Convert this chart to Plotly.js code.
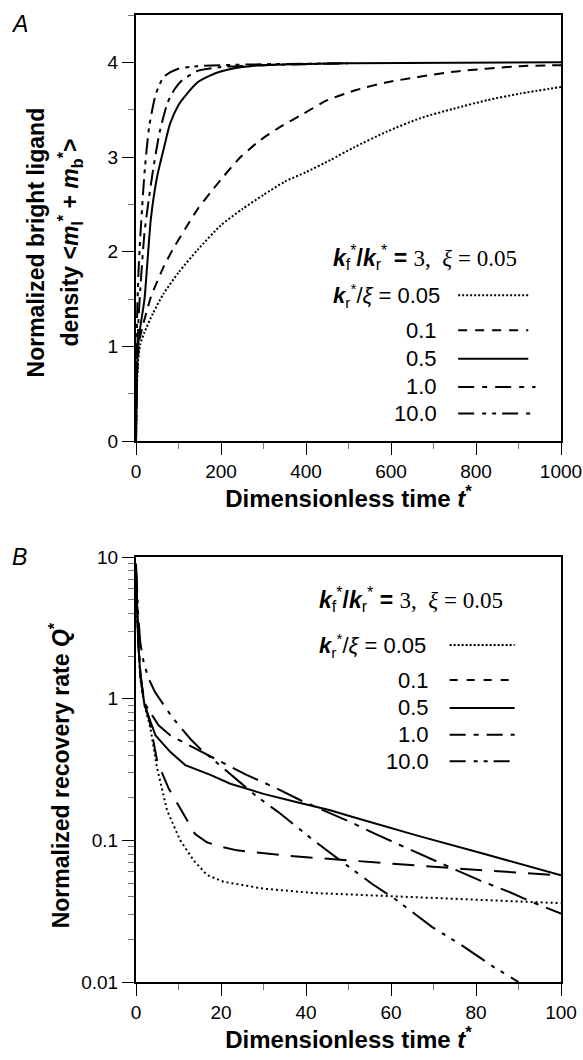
<!DOCTYPE html>
<html>
<head>
<meta charset="utf-8">
<script src="https://cdn.plot.ly/plotly-3.0.1.min.js"></script>
<style>html,body{margin:0;padding:0;background:#fff;}#plot{width:583px;height:1060px;}</style>
</head>
<body>
<div id="plot"></div>
<script>
// ---- Series labels (k_r*/xi) ----
const seriesLabels = ['0.05', '0.1', '0.5', '1.0', '10.0'];

// ---- Panel A: normalized bright ligand density vs t* ----
const tA_005 = [0, 2, 5, 10, 20, 40, 64, 100, 145, 200, 250, 300, 350, 400, 458, 512, 591, 669, 747, 826, 904, 1000];
const yA_005 = [0, 0.55, 0.85, 1.02, 1.15, 1.35, 1.55, 1.78, 2.02, 2.28, 2.45, 2.6, 2.74, 2.84, 2.97, 3.1, 3.27, 3.41, 3.51, 3.6, 3.67, 3.74];
const tA_01 = [0, 2, 5, 8, 15, 35, 66, 90, 117, 145, 176, 207, 246, 293, 340, 395, 450, 520, 591, 747, 904, 1000];
const yA_01 = [0, 0.6, 0.9, 1.06, 1.2, 1.52, 1.85, 2.05, 2.25, 2.45, 2.63, 2.8, 3.0, 3.18, 3.32, 3.46, 3.6, 3.71, 3.79, 3.9, 3.96, 3.97];
const tA_05 = [0, 3, 6, 10, 20, 27, 35, 50, 67, 80, 100, 113, 145, 190, 250, 300, 500, 1000];
const yA_05 = [0, 0.8, 1.05, 1.2, 1.5, 1.9, 2.35, 2.8, 3.12, 3.35, 3.55, 3.63, 3.79, 3.89, 3.95, 3.97, 3.99, 4.0];
const tA_10 = [0, 2, 5, 10, 20, 30, 39, 55, 74, 90, 106, 145, 200, 300, 500];
const yA_10 = [0, 0.8, 1.2, 1.6, 2.2, 2.55, 2.83, 3.25, 3.57, 3.71, 3.8, 3.91, 3.95, 3.97, 3.99];
const tA_100 = [0, 1, 3, 6, 10, 20, 31, 47, 66, 98, 145, 300, 500];
const yA_100 = [0, 0.9, 1.4, 1.8, 2.15, 2.83, 3.32, 3.67, 3.85, 3.93, 3.96, 3.98, 3.99];

// ---- Panel B: normalized recovery rate Q* vs t* ----
const tB_005 = [0, 0.5, 1, 2, 3.4, 4.9, 7.3, 10.4, 13.6, 16.7, 20.6, 30, 41.8, 50.4, 74, 100];
const qB_005 = [8, 2.6, 1.4, 0.9, 0.62, 0.33, 0.163, 0.1, 0.072, 0.057, 0.051, 0.0456, 0.0425, 0.0414, 0.0388, 0.036];
const tB_01 = [0, 0.5, 1, 2, 3.4, 5, 7.7, 11.2, 13.9, 16.7, 19.4, 23.8, 30.8, 35.5, 42.6, 50.4, 66, 81.8, 100];
const qB_01 = [8, 2.6, 1.45, 0.95, 0.65, 0.36, 0.232, 0.155, 0.111, 0.097, 0.091, 0.085, 0.0806, 0.078, 0.075, 0.072, 0.0666, 0.0614, 0.0566];
const tB_05 = [0, 0.5, 1, 2, 4.6, 8.1, 11.6, 17.5, 22.2, 30, 37.9, 45.7, 50.4, 66.2, 81.8, 100];
const qB_05 = [8, 2.6, 1.5, 0.9, 0.55, 0.42, 0.34, 0.29, 0.251, 0.213, 0.186, 0.163, 0.148, 0.108, 0.0805, 0.0566];
const tB_10 = [0, 0.5, 1, 1.8, 5.3, 8.1, 14, 20, 26, 32.4, 38.7, 44.1, 50.4, 56.3, 63, 68.8, 75.5, 81, 88, 93.2, 100];
const qB_10 = [8, 2.8, 1.6, 0.95, 0.65, 0.55, 0.444, 0.36, 0.29, 0.238, 0.192, 0.163, 0.135, 0.111, 0.09, 0.0755, 0.0614, 0.052, 0.043, 0.0367, 0.0304];
const tB_100 = [0, 0.5, 1, 1.8, 3, 4.5, 8.5, 10.4, 12.8, 15.1, 20.2, 22.2, 28, 34, 39.4, 41.8, 48.1, 55.5, 61.4, 69.7, 76, 84.1, 90];
const qB_100 = [9, 4, 2.5, 1.81, 1.38, 1.11, 0.74, 0.63, 0.52, 0.444, 0.329, 0.295, 0.209, 0.154, 0.114, 0.1, 0.072, 0.0494, 0.0377, 0.0244, 0.0187, 0.0128, 0.01];

// ---- Tick labels ----
const xTicksA = [0, 200, 400, 600, 800, 1000];
const yTicksA = [0, 1, 2, 3, 4];
const xTicksB = [0, 20, 40, 60, 80, 100];
const yTicksB = [0.01, 0.1, 1, 10];
const yTickTextB = ['0.01', '0.1', '1', '10'];

// ---- styles (not data) ----
const dashA = ['2px,2px', '10px,7px', 'solid', '16px,6px,4px,6px', '16px,6px,4px,5px,4px,6px'];
const dashB = ['2px,3px', '22px,12px', 'solid', '28px,8px,5px,8px', '28px,8px,4px,7px,4px,8px'];
const dashLegA = ['2px,2px', '9px,8px', 'solid', '16px,8px,5px,8px', '16px,8px,4px,6px,4px,6px'];
const dashLegB = ['2px,2px', '8px,9px', 'solid', '16px,8px,5px,8px', '16px,8px,4px,6px,4px,6px'];
const FONT = 'Arial, "Liberation Sans", sans-serif';

const AX = [[tA_005, yA_005], [tA_01, yA_01], [tA_05, yA_05], [tA_10, yA_10], [tA_100, yA_100]];
const BX = [[tB_005, qB_005], [tB_01, qB_01], [tB_05, qB_05], [tB_10, qB_10], [tB_100, qB_100]];

const traces = [];
AX.forEach((s, i) => traces.push({x: s[0], y: s[1], mode: 'lines', xaxis: 'x', yaxis: 'y',
  line: {color: '#000', width: 2, dash: dashA[i], shape: 'spline', smoothing: 0.6}, showlegend: false, name: seriesLabels[i]}));
BX.forEach((s, i) => traces.push({x: s[0], y: s[1], mode: 'lines', xaxis: 'x2', yaxis: 'y2',
  line: {color: '#000', width: 2, dash: dashB[i]}, showlegend: false, name: seriesLabels[i]}));

const axBase = {showgrid: false, zeroline: false, showline: true, mirror: true, linewidth: 2, linecolor: '#000',
  ticks: 'outside', ticklen: 12, tickwidth: 1, tickcolor: '#000', tickfont: {family: FONT, size: 19, color: '#000'}};
const titleFont = {family: FONT, size: 24, color: '#000'};
const yTitleFont = {family: FONT, size: 23, color: '#000'};

const hdr = "<b><i>k</i></b><sub>f</sub><sup>*</sup><b>/<i>k</i></b><sub>r</sub><sup>*</sup><b> = </b><span style='font-family:Liberation Serif'>3,  <i>ξ</i> = 0.05</span>";
const krLbl = "<b><i>k</i></b><sub>r</sub><sup>*</sup>/<i>ξ</i> = " + seriesLabels[0];

// legend layout (domain fractions)
const legA = {hdrY: 0.431, rows: [0.3425, 0.26, 0.193, 0.127, 0.0645], txtL: 0.458, numR: 0.712, l0: 0.758, l1: [0.923, 0.923, 0.923, 0.94, 0.94], dash: dashLegA};
const legB = {hdrY: 0.9016, rows: [0.793, 0.7106, 0.645, 0.582, 0.5195], txtL: 0.425, numR: 0.695, l0: 0.738, l1: [0.891, 0.891, 0.891, 0.891, 0.891], dash: dashLegB};

const shapes = [], annotations = [];
[[legA, 'x', 'y'], [legB, 'x2', 'y2']].forEach(([L, xa, ya]) => {
  annotations.push({xref: xa + ' domain', yref: ya + ' domain', x: L.txtL, y: L.hdrY, xanchor: 'left', yanchor: 'middle',
    text: hdr, showarrow: false, font: {family: FONT, size: 23, color: '#000'}});
  seriesLabels.forEach((lab, i) => {
    if (i === 0) {
      annotations.push({xref: xa + ' domain', yref: ya + ' domain', x: L.txtL, y: L.rows[i], xanchor: 'left', yanchor: 'middle',
        text: krLbl, showarrow: false, font: {family: FONT, size: 22, color: '#000'}});
    } else {
      annotations.push({xref: xa + ' domain', yref: ya + ' domain', x: L.numR, y: L.rows[i], xanchor: 'right', yanchor: 'middle',
        text: lab, showarrow: false, font: {family: FONT, size: 22, color: '#000'}});
    }
    shapes.push({type: 'line', xref: xa + ' domain', yref: ya + ' domain', x0: L.l0, x1: L.l1[i], y0: L.rows[i], y1: L.rows[i],
      line: {color: '#000', width: 2, dash: L.dash[i]}});
  });
});
// panel letters
annotations.push({xref: 'paper', yref: 'paper', x: -0.273, y: 0.991, xanchor: 'center', yanchor: 'middle', text: '<i>A</i>', showarrow: false,
  font: {family: FONT, size: 23, color: '#000'}});
annotations.push({xref: 'paper', yref: 'paper', x: -0.273, y: 0.439, xanchor: 'center', yanchor: 'middle', text: '<i>B</i>', showarrow: false,
  font: {family: FONT, size: 23, color: '#000'}});
// y-axis titles (two-line title for panel A)
annotations.push({xref: 'paper', yref: 'paper', x: -0.2353, y: 0.7648, xanchor: 'center', yanchor: 'middle', textangle: -90, showarrow: false,
  text: '<b>Normalized bright ligand</b>', font: yTitleFont});
annotations.push({xref: 'paper', yref: 'paper', x: -0.1553, y: 0.7648, xanchor: 'center', yanchor: 'middle', textangle: -90, showarrow: false,
  text: '<b>density &lt;<i>m</i><sub>l</sub><sup>*</sup> + <i>m</i><sub>b</sub><sup>*</sup>&gt;</b>', font: yTitleFont});
annotations.push({xref: 'paper', yref: 'paper', x: -0.1788, y: 0.2137, xanchor: 'center', yanchor: 'middle', textangle: -90, showarrow: false,
  text: '<b>Normalized recovery rate <i>Q</i><sup>*</sup></b>', font: yTitleFont});

const layout = {
  width: 583, height: 1060, paper_bgcolor: '#fff', plot_bgcolor: '#fff', showlegend: false,
  margin: {l: 136, r: 22, t: 14.5, b: 78.3},
  xaxis: Object.assign({}, axBase, {domain: [0, 1], anchor: 'y', range: [0, 1000], tickvals: xTicksA,
    minor: {ticks: 'outside', ticklen: 6, dtick: 100, tickcolor: '#777', tickwidth: 1},
    title: {text: '<b>Dimensionless time <i>t</i><sup>*</sup></b>', font: titleFont, standoff: 8}}),
  yaxis: Object.assign({}, axBase, {domain: [0.5594, 1], anchor: 'x', range: [0, 4.5], tickvals: yTicksA,
    minor: {ticks: 'outside', ticklen: 6, dtick: 0.5, tickcolor: '#777', tickwidth: 1}}),
  xaxis2: Object.assign({}, axBase, {domain: [0, 1], anchor: 'y2', range: [0, 100], tickvals: xTicksB,
    minor: {ticks: 'outside', ticklen: 6, dtick: 10, tickcolor: '#777', tickwidth: 1},
    title: {text: '<b>Dimensionless time <i>t</i><sup>*</sup></b>', font: titleFont, standoff: 8}}),
  yaxis2: Object.assign({}, axBase, {domain: [0, 0.4394], anchor: 'x2', type: 'log', range: [-2, 1], tickvals: yTicksB, ticktext: yTickTextB,
    minor: {ticks: 'outside', ticklen: 6, dtick: 'D1', tickcolor: '#777', tickwidth: 1}}),
  shapes: shapes, annotations: annotations
};

Plotly.newPlot('plot', traces, layout, {displayModeBar: false, staticPlot: true});
</script>
</body>
</html>
